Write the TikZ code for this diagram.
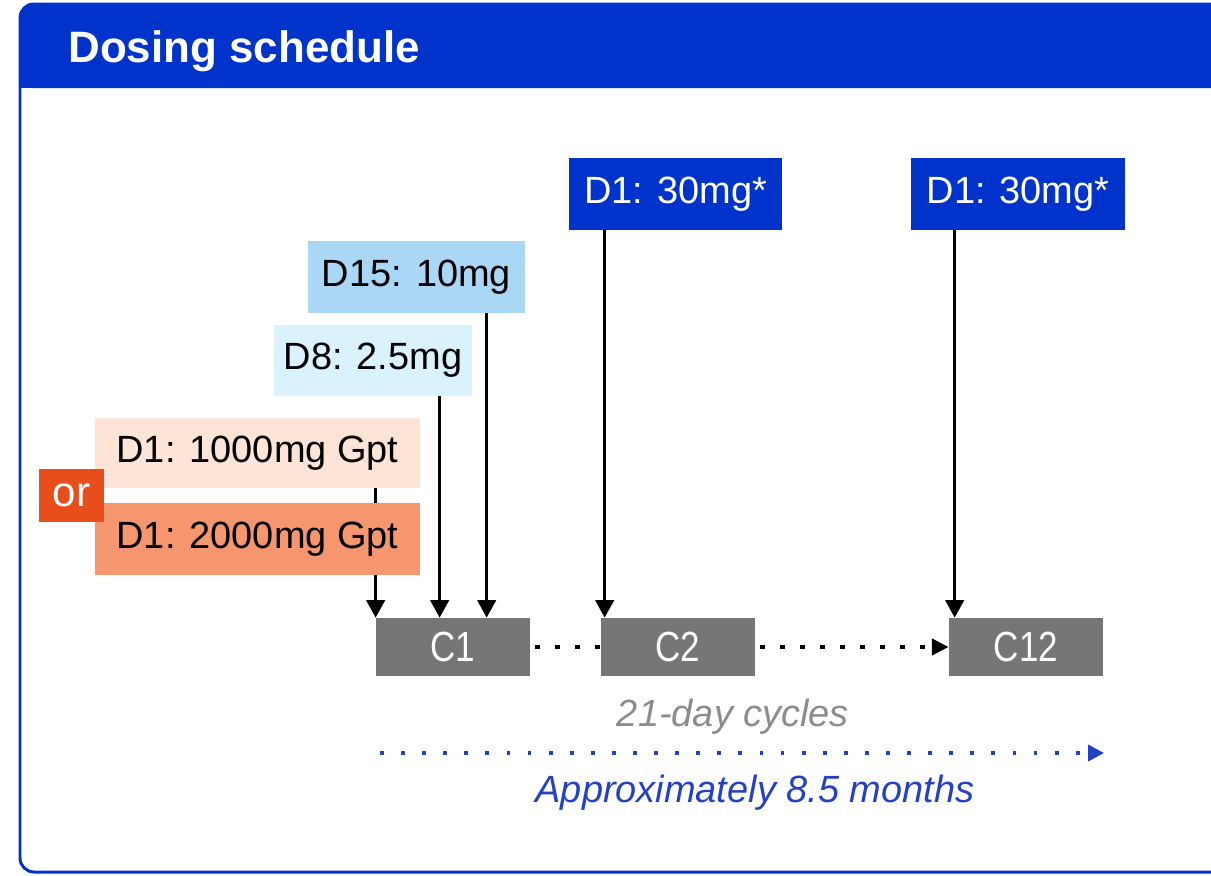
\documentclass[tikz,border=0pt]{standalone}
\usepackage{fontspec}
\setmainfont{Liberation Sans}
\usepackage{graphicx}
\usetikzlibrary{arrows.meta, calc}
\definecolor{hdrblue}{RGB}{0,51,204}
\definecolor{d15col}{RGB}{170,215,246}
\definecolor{d8col}{RGB}{218,242,252}
\definecolor{lowcol}{RGB}{252,228,214}
\definecolor{highcol}{RGB}{246,150,110}
\definecolor{orcol}{RGB}{232,78,27}
\definecolor{cyclegrey}{RGB}{118,118,118}
\definecolor{notegrey}{RGB}{140,140,140}
\definecolor{spanblue}{RGB}{35,65,195}
\tikzset{
  box/.style={inner sep=0pt, font=\fontsize{21.6}{26}\selectfont, text=black},
  kdose/.style={box, fill=hdrblue, text=white, minimum width=4.27cm, minimum height=1.44cm},
  kd15/.style={box, fill=d15col, minimum width=4.34cm, minimum height=1.44cm},
  kd8/.style={box, fill=d8col, minimum width=3.96cm, minimum height=1.42cm},
  klow/.style={box, fill=lowcol, minimum width=6.5cm, minimum height=1.4cm},
  khigh/.style={box, fill=highcol, minimum width=6.5cm, minimum height=1.44cm},
  kor/.style={box, fill=orcol, text=white, minimum width=1.3cm, minimum height=1.06cm, font=\fontsize{24}{28}\selectfont},
  kcycle/.style={box, fill=cyclegrey, text=white, minimum width=3.08cm, minimum height=1.16cm, font=\fontsize{24}{28}\selectfont},
  flow/.style={-{Triangle[length=10pt, width=10.5pt]}, line width=1.7pt},
  dots/.style={line width=2.8pt, dash pattern=on 2.8pt off 8.6pt},
  note/.style={font=\itshape\fontsize{21.6}{26}\selectfont},
}

\begin{document}
\begin{tikzpicture}[x=0.02cm, y=-0.02cm]
    \useasboundingbox (0,0) rectangle (1211,876);
    \clip (0,0) rectangle (1211,876);
    % frame and title bar
    \draw[hdrblue, line width=1.7pt, rounded corners=8pt] (20,4) rectangle (1230,872);
    \fill[hdrblue, rounded corners=8pt] (19,3) rectangle (1231,88);
    \fill[hdrblue] (19,40) rectangle (1231,88);
    \node[font=\bfseries\fontsize{25}{30}\selectfont, text=white, anchor=base west, inner sep=0pt] (title) at (68,62) {Dosing schedule};
    % cycles
    \node[kcycle] (c1) at (453,647) {\scalebox{0.83}[1]{C1}};
    \node[kcycle] (c2) at (678,647) {\scalebox{0.83}[1]{C2}};
    \node[kcycle] (c12) at (1026,647) {\scalebox{0.83}[1]{C12}};
    % doses
    \node[klow] (dlow) at (257.5,453) {D1: 1000mg Gpt};
    \node[kd8] (d8) at (373,360.5) {D8: 2.5mg};
    \node[kd15] (d15) at (416.5,277) {D15: 10mg};
    \node[kdose] (dosec2) at (675.5,194) {D1: 30mg*};
    \node[kdose] (dosec12) at (1018,194) {D1: 30mg*};
    \coordinate (c1in8) at ($(c1.north west)+(64,0)$);
    \coordinate (c1in15) at ($(c1.north west)+(111,0)$);
    \coordinate (c2in) at ($(c2.north west)+(4,0)$);
    \coordinate (c12in) at ($(c12.north west)+(6,0)$);
    \draw[flow] (dlow.south -| c1.north west) -- (c1.north west);
    \draw[flow] (d8.south -| c1in8) -- (c1in8);
    \draw[flow] (d15.south -| c1in15) -- (c1in15);
    \draw[flow] (dosec2.south -| c2in) -- (c2in);
    \draw[flow] (dosec12.south -| c12in) -- (c12in);
    \node[khigh] (dhigh) at (257.5,539) {D1: 2000mg Gpt};
    \node[kor] (orbox) at (71.5,495.5) {or};
    % cycle links
    \draw[dots, shorten <=2.8pt] (c1.east) -- (c2.west);
    \draw[dots, shorten <=2.8pt, -{Triangle[length=9.5pt, width=9pt]}] (c2.east) -- (c12.west);
    % duration
    \node[note, text=notegrey] (cyclelbl) at (733,717) {21-day cycles};
    \coordinate (spanstart) at (380,753);
    \coordinate (spanend) at (1104,753);
    \draw[spanblue, line width=2.2pt, dash pattern=on 2.2pt off 9.8pt, -{Triangle[length=9pt, width=9pt]}] (spanstart) -- (spanend);
    \node[note, text=spanblue] (spanlbl) at (755,793) {Approximately 8.5 months};
  \end{tikzpicture}
\end{document}
